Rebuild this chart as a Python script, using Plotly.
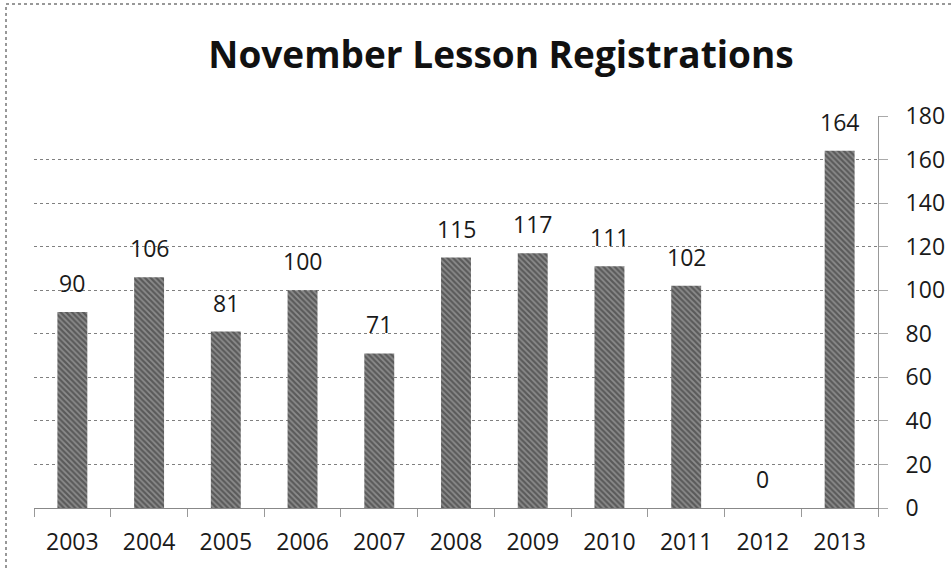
import plotly.graph_objects as go

years = ["2003", "2004", "2005", "2006", "2007", "2008", "2009", "2010", "2011", "2012", "2013"]
registrations = [90, 106, 81, 100, 71, 115, 117, 111, 102, 0, 164]
y_ticks = [0, 20, 40, 60, 80, 100, 120, 140, 160, 180]

W, H = 951, 571
L, R, T, B = 34, 73, 116, 63

fig = go.Figure()
fig.add_trace(go.Bar(
    x=list(range(len(years))), y=registrations,
    marker=dict(
        color="#828282",
        line=dict(width=0),
        pattern=dict(shape="\\", size=4, solidity=0.55, fgcolor="#282828", bgcolor="#8c8c8c"),
    ),
    width=0.39,
    hoverinfo="y",
))

font_fam = "Open Sans, Noto Sans, sans-serif"
for i, v in enumerate(registrations):
    fig.add_annotation(x=i, y=v, xref="x", yref="y", text=str(v), showarrow=False,
                       yanchor="bottom", yshift=11,
                       font=dict(family=font_fam, size=23, color="#1a1a1a"))

pw = W - L - R
ph = H - T - B
fig.add_shape(type="rect", xref="paper", yref="paper",
              x0=(6 - L) / pw, x1=(W + 10 - L) / pw,
              y0=-(B + 10) / ph, y1=(H - 4 - B) / ph,
              line=dict(color="#777777", width=1.5, dash="dot"), layer="below")

fig.update_layout(
    width=W, height=H,
    margin=dict(l=L, r=R, t=T, b=B, pad=0, autoexpand=False),
    paper_bgcolor="white", plot_bgcolor="white",
    showlegend=False,
    title=dict(text="November Lesson Registrations", xref="container", yref="container",
               x=501 / W, xanchor="center", y=1 - 55 / H, yanchor="middle",
               font=dict(family=font_fam, size=37, color="#111111", weight=700)),
    font=dict(family=font_fam, size=23, color="#1a1a1a"),
    xaxis=dict(
        tickmode="array", tickvals=list(range(len(years))), ticktext=years,
        ticks="", showline=True, linecolor="#888888", linewidth=1,
        showgrid=False, tickfont=dict(size=23, color="#1a1a1a"),
        range=[-0.5, len(years) - 0.5], ticklabelstandoff=13, automargin=False,
        minor=dict(tickvals=[i - 0.5 for i in range(len(years) + 1)], ticks="outside",
                   ticklen=8, tickcolor="#999999", tickwidth=1, showgrid=False),
    ),
    yaxis=dict(
        side="right", range=[0, 180], tickvals=y_ticks,
        showgrid=True, gridcolor="#808080", griddash="dot", gridwidth=1,
        showline=True, linecolor="#999999", linewidth=1,
        ticks="outside", ticklen=9, tickcolor="#aaaaaa",
        zeroline=False, tickfont=dict(size=23, color="#1a1a1a"),
        ticklabelstandoff=13, automargin=False,
    ),
)

fig.write_html("out.html", config={"displayModeBar": False},
               post_script="document.body.style.margin='0';")
